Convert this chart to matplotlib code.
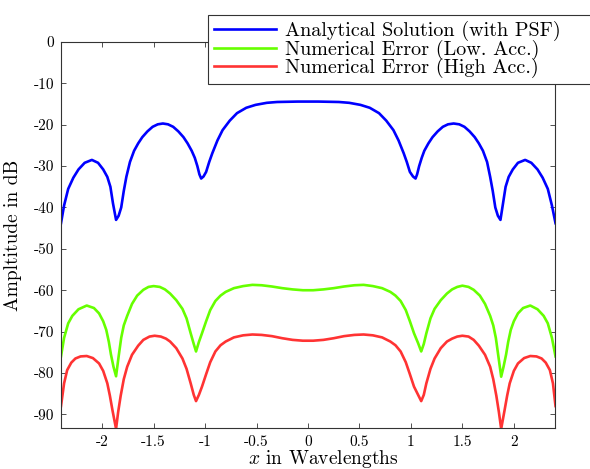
import matplotlib
matplotlib.use("Agg")
import matplotlib.pyplot as plt

# ---- data ----
x_blue = [-2.40, -2.37, -2.33, -2.28, -2.23, -2.17, -2.10, -2.04, -1.99, -1.95, -1.92, -1.895,
          -1.865, -1.84, -1.815, -1.79, -1.765, -1.73, -1.69, -1.65, -1.61, -1.56, -1.51, -1.46,
          -1.41, -1.36, -1.31, -1.26, -1.21, -1.17, -1.13, -1.10, -1.075, -1.055, -1.038, -1.015,
          -0.99, -0.96, -0.93, -0.88, -0.83, -0.76, -0.69, -0.60, -0.51, -0.40, -0.30, -0.20,
          -0.10, 0.0, 0.10, 0.20, 0.30, 0.40, 0.51, 0.60, 0.69, 0.76, 0.83, 0.88, 0.93, 0.96,
          0.99, 1.02, 1.045, 1.06, 1.08, 1.105, 1.13, 1.17, 1.21, 1.26, 1.31, 1.36, 1.415, 1.47,
          1.52, 1.57, 1.62, 1.66, 1.70, 1.74, 1.77, 1.795, 1.82, 1.845, 1.87, 1.895, 1.92, 1.95,
          1.99, 2.04, 2.11, 2.17, 2.23, 2.28, 2.33, 2.37, 2.405]
y_blue = [-43.8, -39.5, -35.5, -32.8, -30.8, -29.2, -28.5, -29.2, -30.8, -32.6, -35.0, -39.0,
          -43.0, -42.0, -40.0, -36.0, -32.6, -29.0, -26.3, -24.5, -23.0, -21.6, -20.5, -19.9,
          -19.7, -19.9, -20.5, -21.6, -23.0, -24.5, -26.3, -28.0, -30.0, -32.0, -33.0, -32.5,
          -31.4, -29.0, -26.9, -23.8, -21.3, -19.0, -17.2, -15.9, -15.2, -14.7, -14.5, -14.45,
          -14.4, -14.4, -14.4, -14.45, -14.5, -14.7, -15.2, -15.9, -17.2, -19.0, -21.3, -23.8,
          -26.9, -29.0, -31.4, -32.5, -33.0, -32.0, -30.0, -28.0, -26.3, -24.5, -23.0, -21.6,
          -20.5, -19.9, -19.7, -19.9, -20.5, -21.6, -23.0, -24.5, -26.3, -29.0, -32.6, -36.0,
          -40.0, -42.0, -43.0, -39.0, -35.0, -32.6, -30.8, -29.2, -28.5, -29.2, -30.8, -32.8,
          -35.5, -39.5, -43.8]

x_green = [-2.40, -2.37, -2.33, -2.29, -2.23, -2.15, -2.08, -2.03, -1.99, -1.96, -1.935, -1.915,
           -1.89, -1.865, -1.84, -1.815, -1.79, -1.757, -1.71, -1.66, -1.60, -1.55, -1.50, -1.44,
           -1.39, -1.34, -1.28, -1.22, -1.18, -1.14, -1.11, -1.088, -1.06, -1.03, -0.99, -0.95,
           -0.90, -0.85, -0.80, -0.72, -0.63, -0.54, -0.45, -0.35, -0.25, -0.15, -0.05, 0.05,
           0.15, 0.25, 0.35, 0.45, 0.54, 0.63, 0.72, 0.80, 0.85, 0.90, 0.95, 0.99, 1.03, 1.07,
           1.10, 1.125, 1.15, 1.19, 1.23, 1.29, 1.35, 1.40, 1.45, 1.50, 1.56, 1.61, 1.67, 1.72,
           1.77, 1.80, 1.825, 1.85, 1.877, 1.90, 1.925, 1.945, 1.97, 2.00, 2.04, 2.09, 2.16,
           2.23, 2.29, 2.33, 2.37, 2.405]
y_green = [-76.0, -71.5, -68.0, -66.2, -64.6, -63.7, -64.3, -65.6, -67.5, -69.6, -72.5, -75.5,
           -78.5, -80.8, -76.0, -71.5, -68.5, -66.2, -63.3, -61.3, -59.9, -59.2, -59.0, -59.2,
           -59.8, -60.8, -62.4, -64.5, -66.8, -70.4, -73.0, -74.8, -72.5, -70.4, -67.5, -64.8,
           -62.6, -61.3, -60.4, -59.5, -59.0, -58.7, -58.8, -59.1, -59.5, -59.8, -60.0, -60.0,
           -59.8, -59.5, -59.1, -58.8, -58.7, -59.0, -59.5, -60.4, -61.3, -62.6, -64.8, -67.5,
           -70.4, -72.8, -74.8, -73.0, -70.4, -66.8, -64.5, -62.4, -60.8, -59.8, -59.2, -58.9,
           -59.2, -59.9, -61.3, -63.3, -66.2, -68.5, -71.5, -76.0, -80.9, -78.5, -75.5, -72.5,
           -69.6, -67.5, -65.6, -64.3, -63.7, -64.6, -66.2, -68.0, -71.5, -76.0]

x_red = [-2.40, -2.37, -2.34, -2.30, -2.26, -2.21, -2.15, -2.09, -2.03, -1.99, -1.95, -1.925,
         -1.90, -1.865, -1.845, -1.82, -1.79, -1.757, -1.71, -1.65, -1.60, -1.54, -1.49, -1.43,
         -1.38, -1.34, -1.28, -1.22, -1.18, -1.14, -1.11, -1.088, -1.06, -1.03, -0.99, -0.95,
         -0.90, -0.85, -0.80, -0.72, -0.63, -0.54, -0.45, -0.35, -0.25, -0.15, -0.05, 0.05,
         0.15, 0.25, 0.35, 0.45, 0.54, 0.63, 0.72, 0.80, 0.85, 0.90, 0.95, 0.99, 1.03, 1.07,
         1.10, 1.125, 1.15, 1.19, 1.23, 1.29, 1.35, 1.40, 1.45, 1.50, 1.56, 1.61, 1.66, 1.72,
         1.77, 1.80, 1.83, 1.855, 1.877, 1.91, 1.935, 1.96, 2.00, 2.04, 2.10, 2.16, 2.22,
         2.27, 2.31, 2.35, 2.38, 2.405]
y_red = [-88.0, -82.5, -79.3, -77.5, -76.5, -76.0, -75.9, -76.4, -77.7, -79.5, -82.5, -85.5,
         -89.0, -93.5, -89.5, -85.5, -81.5, -78.5, -75.6, -73.4, -72.0, -71.2, -71.0, -71.2,
         -71.7, -72.4, -74.0, -76.5, -79.0, -82.5, -85.3, -86.8, -85.3, -83.3, -80.3, -77.4,
         -74.8, -73.3, -72.4, -71.4, -70.9, -70.7, -70.8, -71.1, -71.6, -72.0, -72.2, -72.2,
         -72.0, -71.6, -71.1, -70.8, -70.7, -70.9, -71.4, -72.4, -73.3, -74.8, -77.4, -80.3,
         -83.3, -85.3, -86.8, -85.3, -82.5, -79.0, -76.5, -74.0, -72.4, -71.7, -71.2, -71.0,
         -71.2, -72.0, -73.4, -75.6, -78.5, -81.5, -85.5, -89.5, -93.5, -89.0, -85.5, -82.5,
         -79.5, -77.7, -76.4, -75.9, -76.0, -76.5, -77.5, -79.3, -82.5, -88.0]

labels = ["Analytical Solution (with PSF)",
          "Numerical Error (Low. Acc.)",
          "Numerical Error (High Acc.)"]
xticks = [-2, -1.5, -1, -0.5, 0, 0.5, 1, 1.5, 2]
xtick_labels = ["-2", "-1.5", "-1", "-0.5", "0", "0.5", "1", "1.5", "2"]
yticks = [0, -10, -20, -30, -40, -50, -60, -70, -80, -90]
ytick_labels = ["0", "-10", "-20", "-30", "-40", "-50", "-60", "-70", "-80", "-90"]

# ---- style ----
plt.rcParams['font.family'] = ['cmr10', 'DejaVu Serif']
plt.rcParams['mathtext.fontset'] = 'cm'
plt.rcParams['axes.unicode_minus'] = False

fig = plt.figure(figsize=(5.90, 4.69), dpi=100)
ax = fig.add_axes([61/590, 1-428/469, (555-61)/590, (428-42)/469])

lw = 1.9
ax.plot(x_blue, y_blue, color='#0000ff', lw=lw, label=labels[0])
ax.plot(x_green, y_green, color='#66ff00', lw=lw, label=labels[1])
ax.plot(x_red, y_red, color='#ff3333', lw=lw, label=labels[2])

ax.set_xlim(-2.4, 2.4)
ax.set_ylim(-93.3, 0)
ax.set_xticks(xticks)
ax.set_xticklabels(xtick_labels)
ax.set_yticks(yticks)
ax.set_yticklabels(ytick_labels)
ax.tick_params(direction='in', length=3.5, width=0.6, top=True, right=True,
               labelsize=11, colors='#333333', labelcolor='black', pad=5)
for s in ax.spines.values():
    s.set_linewidth(0.8)
    s.set_color('#333333')

ax.set_xlabel('$x$ in Wavelengths', fontsize=14)
ax.xaxis.set_label_coords(0.531, -0.053)
ax.set_ylabel('Ampltitude in dB', fontsize=14)
ax.yaxis.set_label_coords(-0.078, 0.5)

top = 1 - 15/469
leg = ax.legend(loc='upper left', bbox_to_anchor=(208/590, top - 0.05, 400/590, 0.05),
                bbox_transform=fig.transFigure, borderaxespad=0, fontsize=14.5,
                mode='expand', fancybox=False, framealpha=1, edgecolor='#333333',
                handlelength=3.1, handletextpad=0.4, labelspacing=-0.08,
                borderpad=0.3)
leg.get_frame().set_linewidth(0.8)

fig.savefig('out.png', dpi=100)
